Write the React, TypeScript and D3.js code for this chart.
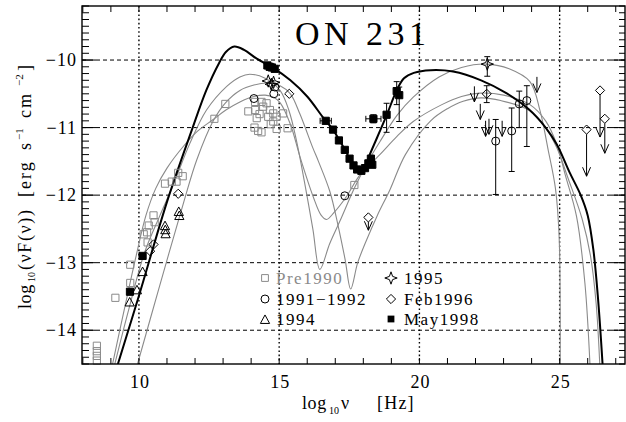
import * as d3 from 'd3';

// ---- axes ----
const xTicks = [10, 15, 20, 25];
const yTicks = [-10, -11, -12, -13, -14];

// ---- model curves: [log10 nu, log10 nuF(nu)] ----
const modelMay1998: [number, number][] = [
  [9.25, -14.5], [10.0, -13.49], [11.0, -12.1], [11.9, -11.02], [12.4, -10.45],
  [12.85, -10.05], [13.1, -9.88], [13.4, -9.8], [13.75, -9.85], [14.2, -9.98],
  [14.8, -10.12], [15.4, -10.3], [16.0, -10.54], [16.6, -10.87], [16.92, -11.03],
  [17.15, -11.19], [17.35, -11.33], [17.5, -11.45], [17.65, -11.56], [17.8, -11.63],
  [17.95, -11.63], [18.1, -11.53], [18.25, -11.38], [18.8, -10.85], [19.2, -10.44],
  [19.45, -10.27], [19.8, -10.19], [20.4, -10.15], [21.2, -10.17], [22.2, -10.3],
  [23.1, -10.49], [23.9, -10.73], [24.5, -11.0], [24.9, -11.25], [25.35, -11.66],
  [25.75, -12.0], [26.0, -12.3], [26.2, -12.8], [26.37, -13.54], [26.53, -14.5],
];
const modelGrayA: [number, number][] = [
  [9.14, -14.5], [9.6, -13.75], [10.2, -12.85], [10.75, -12.3], [11.22, -11.85],
  [11.82, -11.23], [12.41, -10.74], [13.13, -10.39], [13.6, -10.25], [13.95, -10.21],
  [14.5, -10.27], [15.03, -10.45], [15.35, -10.75], [15.62, -11.2], [15.9, -11.8],
  [16.2, -12.5], [16.45, -13.1], [16.8, -12.72], [17.17, -12.38], [17.7, -11.88],
  [18.2, -11.48], [18.59, -11.21], [19.2, -10.82], [19.78, -10.55], [20.7, -10.25],
  [21.5, -10.11], [22.4, -10.06], [23.2, -10.13], [23.94, -10.32], [24.3, -10.75],
  [24.59, -11.33], [24.85, -11.9], [24.98, -12.6], [25.02, -14.5],
];
const modelGrayB: [number, number][] = [
  [9.95, -14.5], [10.7, -13.4], [11.6, -12.1], [12.06, -11.48], [12.65, -10.9],
  [13.07, -10.64], [13.6, -10.45], [14.1, -10.37], [14.6, -10.34], [15.03, -10.38],
  [15.4, -10.5], [15.74, -10.8], [16.2, -11.3], [16.4, -11.5], [16.81, -11.95],
  [17.1, -12.45], [17.35, -12.95], [17.55, -13.39], [17.8, -13.0], [18.12, -12.66],
  [18.5, -12.3], [18.95, -11.92], [19.5, -11.4], [20.4, -10.9], [21.0, -10.72],
  [21.56, -10.61], [22.2, -10.56], [22.9, -10.6], [23.94, -10.75], [24.5, -11.0],
  [24.9, -11.3], [25.3, -11.75], [25.8, -12.35], [26.1, -12.9], [26.3, -13.6],
  [26.43, -14.5],
];
const modelGrayC: [number, number][] = [
  [9.06, -14.5], [9.5, -13.65], [9.9, -12.9], [10.25, -12.3], [10.6, -11.9],
  [11.0, -11.6], [11.58, -11.28], [12.1, -11.05], [12.65, -10.88], [13.1, -10.74],
  [13.6, -10.62], [14.1, -10.54], [14.5, -10.52], [14.8, -10.55], [15.03, -10.63],
  [15.4, -10.95], [15.74, -11.43], [16.21, -12.02], [16.5, -12.3], [16.69, -12.36],
  [16.95, -12.26], [17.4, -12.02], [17.88, -11.7], [18.59, -11.4], [19.2, -11.13],
  [19.78, -10.91], [20.8, -10.66], [21.5, -10.54], [22.16, -10.49], [23.0, -10.52],
  [23.94, -10.66], [24.5, -10.9], [24.9, -11.25], [25.2, -11.7], [25.6, -12.31],
  [25.9, -13.3], [26.08, -14.5],
];

// ---- observations ----
const pre1990: [number, number][] = [
  [8.5, -14.23], [8.5, -14.31], [8.5, -14.38], [8.5, -14.45],
  [9.16, -13.52], [9.69, -13.03], [9.69, -13.3],
  [10.17, -12.58], [10.29, -12.55], [10.35, -12.45], [10.31, -12.7], [10.52, -12.3], [10.56, -12.4],
  [10.93, -11.83], [11.17, -11.8], [11.34, -11.8], [11.4, -11.67], [11.56, -11.72],
  [12.69, -10.87], [13.08, -10.65],
  [13.9, -10.76], [14.14, -10.62], [14.37, -10.62], [14.55, -10.64], [14.14, -10.74],
  [14.43, -10.69], [14.67, -10.74], [14.79, -10.79], [14.61, -10.84], [14.91, -10.84],
  [15.14, -10.79], [14.2, -10.86], [14.79, -10.91], [14.12, -11.0], [14.25, -11.05],
  [14.37, -11.07], [14.91, -11.02], [15.3, -11.01], [14.3, -10.8], [14.7, -10.95],
  [17.68, -11.85],
];
const y1991: [number, number][] = [
  [14.1, -10.57], [14.81, -10.5], [14.85, -10.4], [17.34, -12.01],
  [22.72, -11.2], [23.29, -11.05], [23.56, -10.65], [23.83, -10.6],
];
const y1991Bars: [number, number, number][] = [
  [22.72, -11.99, -10.88], [23.29, -11.65, -10.71], [23.56, -11.0, -10.46], [23.83, -11.28, -10.38],
];
const y1991Limits: [number, number, number][] = [
  [21.96, -10.33, -10.62], [22.17, -10.59, -10.88], [22.36, -10.84, -11.13],
  [22.48, -10.81, -11.1], [22.95, -10.84, -11.13], [24.19, -10.19, -10.48],
];
const y1994: [number, number][] = [
  [11.42, -12.25], [11.44, -12.31], [10.93, -12.46], [10.94, -12.52], [10.95, -12.58],
  [10.13, -13.14], [9.93, -13.41], [9.67, -13.59],
];
const y1995: [number, number][] = [[14.61, -10.31], [14.72, -10.36], [14.8, -10.33], [22.42, -10.06]];
const y1995Bars: [number, number, number][] = [[22.42, -10.24, -9.95]];
const feb1996: [number, number][] = [[10.4, -12.83], [10.52, -12.73], [11.4, -11.98], [15.36, -10.5], [22.4, -10.5]];
const feb1996Bars: [number, number, number][] = [[22.4, -10.63, -10.38]];
const feb1996Limits: [number, number, number][] = [
  [18.18, -12.33, -12.52], [25.96, -11.03, -11.72], [26.44, -10.45, -11.14], [26.61, -10.87, -11.38],
];
const may1998: [number, number][] = [
  [9.68, -13.43], [10.13, -12.9], [14.58, -10.08], [14.66, -10.1], [14.74, -10.11], [14.84, -10.13],
  [16.66, -10.9], [16.92, -11.03], [17.13, -11.19], [17.34, -11.33], [17.51, -11.46], [17.65, -11.56],
  [17.78, -11.62], [17.93, -11.64], [18.06, -11.6], [18.18, -11.53], [18.27, -11.46], [18.32, -11.55],
  [18.36, -10.87], [18.83, -10.81], [19.19, -10.46], [19.28, -10.52],
];
const may1998Bars: [number, number, number][] = [
  [18.36, -10.93, -10.81], [18.83, -11.07, -10.64], [19.19, -10.66, -10.32], [19.28, -10.91, -10.4],
];
const may1998XBars: [number, number, number][] = [[-10.9, 16.46, 16.86], [-10.87, 18.09, 18.63]];

const legendLeft = ['Pre1990', '1991\u22121992', '1994'];
const legendRight = ['1995', 'Feb1996', 'May1998'];

const FONT = '"Liberation Serif", "Times New Roman", serif';
const GRAY = '#8a8a8a';

const x = d3.scaleLinear().domain([7.97, 27.33]).range([82, 625]);
const y = d3.scaleLinear().domain([-14.5, -9.2]).range([364, 6]);

const curve = d3.line<[number, number]>()
  .x(d => x(d[0]))
  .y(d => y(d[1]))
  .curve(d3.curveCatmullRom.alpha(0.5));

// symbol paths
const squarePath = (cx: number, cy: number, s = 3.6) =>
  `M${cx - s},${cy - s}H${cx + s}V${cy + s}H${cx - s}Z`;
const trianglePath = (cx: number, cy: number, s = 4.6) =>
  `M${cx},${cy - s * 1.1}L${cx + s},${cy + s * 0.75}L${cx - s},${cy + s * 0.75}Z`;
const diamondPath = (cx: number, cy: number, s = 4.6) =>
  `M${cx},${cy - s}L${cx + s},${cy}L${cx},${cy + s}L${cx - s},${cy}Z`;
const starPath = (cx: number, cy: number, r = 6.2, a = 1.6) =>
  `M${cx},${cy - r}L${cx + a},${cy - a}L${cx + r},${cy}L${cx + a},${cy + a}L${cx},${cy + r}` +
  `L${cx - a},${cy + a}L${cx - r},${cy}L${cx - a},${cy - a}Z`;

const ErrBars = ({ bars }: { bars: [number, number, number][] }) => (
  <g stroke="#000" strokeWidth={1}>
    {bars.map(([bx, lo, hi], i) => (
      <path key={i}
        d={`M${x(bx)},${y(lo)}V${y(hi)}M${x(bx) - 3},${y(lo)}h6M${x(bx) - 3},${y(hi)}h6`} />
    ))}
  </g>
);

const Limits = ({ data, gap }: { data: [number, number, number][]; gap: number }) => (
  <g stroke="#000" strokeWidth={1} fill="none">
    {data.map(([lx, ly, tip], i) => {
      const px = x(lx), t = y(tip);
      return <path key={i} d={`M${px},${y(ly) + gap}V${t}M${px - 4},${t - 9}L${px},${t}L${px + 4},${t - 9}`} />;
    })}
  </g>
);

export default function App() {
  const xMinor = d3.range(8, 28);
  const yMinor = d3.range(-145, -91).map(v => v / 10);
  const yMajor = d3.range(-14, -9);
  const legendRows = [278, 299, 319];

  return (
    <div style={{ position: 'absolute', left: 0, top: 0, background: '#fff' }}>
      <svg width={626} height={422} style={{ display: 'block', fontFamily: FONT }}>
        <defs>
          <clipPath id="plot">
            <rect x={82} y={6} width={543} height={358} />
          </clipPath>
        </defs>
        <rect width={626} height={422} fill="#fff" />

        {/* grid */}
        <g stroke="#000" strokeWidth={1}>
          {yTicks.map(t => (
            <line key={t} x1={82} x2={625} y1={y(t)} y2={y(t)} strokeDasharray="4,3" />
          ))}
          {xTicks.map(t => (
            <line key={t} x1={x(t)} x2={x(t)} y1={6} y2={364} strokeDasharray="1.6,2.6" strokeWidth={1.4} />
          ))}
        </g>

        {/* models */}
        <g clipPath="url(#plot)" fill="none">
          {[modelGrayA, modelGrayB, modelGrayC].map((m, i) => (
            <path key={i} d={curve(m) ?? ''} stroke={GRAY} strokeWidth={1.1} />
          ))}
          <path d={curve(modelMay1998) ?? ''} stroke="#000" strokeWidth={2} />
        </g>

        {/* observations */}
        <g fill="none" strokeWidth={1}>
          {pre1990.map(([a, b], i) => (
            <path key={i} d={squarePath(x(a), y(b))} stroke={GRAY} />
          ))}
          <ErrBars bars={y1991Bars} />
          <Limits data={y1991Limits} gap={4} />
          {y1991.map(([a, b], i) => (
            <circle key={i} cx={x(a)} cy={y(b)} r={4} stroke="#000" />
          ))}
          {y1994.map(([a, b], i) => (
            <path key={i} d={trianglePath(x(a), y(b))} stroke="#000" />
          ))}
          <ErrBars bars={y1995Bars} />
          {y1995.map(([a, b], i) => (
            <path key={i} d={starPath(x(a), y(b))} stroke="#000" />
          ))}
          <ErrBars bars={feb1996Bars} />
          <Limits data={feb1996Limits} gap={4.6} />
          {feb1996.concat(feb1996Limits.map(d => [d[0], d[1]] as [number, number])).map(([a, b], i) => (
            <path key={i} d={diamondPath(x(a), y(b))} stroke="#000" />
          ))}
          <ErrBars bars={may1998Bars} />
          <g stroke="#000">
            {may1998XBars.map(([by, lo, hi], i) => (
              <path key={i} d={`M${x(lo)},${y(by)}H${x(hi)}M${x(lo)},${y(by) - 3}v6M${x(hi)},${y(by) - 3}v6`} />
            ))}
          </g>
          {may1998.map(([a, b], i) => (
            <path key={i} d={squarePath(x(a), y(b), 3.6)} fill="#000" stroke="#000" />
          ))}
        </g>

        {/* frame and ticks */}
        <g stroke="#000" strokeWidth={1}>
          {xMinor.map(t => (
            <g key={t}>
              <line x1={x(t)} x2={x(t)} y1={364} y2={358} />
              <line x1={x(t)} x2={x(t)} y1={6} y2={12} />
            </g>
          ))}
          {yMinor.map(t => (
            <g key={t}>
              <line x1={82} x2={89} y1={y(t)} y2={y(t)} />
              <line x1={625} x2={619} y1={y(t)} y2={y(t)} />
            </g>
          ))}
          {yMajor.map(t => (
            <g key={t}>
              <line x1={82} x2={96} y1={y(t)} y2={y(t)} />
              <line x1={625} x2={611} y1={y(t)} y2={y(t)} />
            </g>
          ))}
          <rect x={82} y={6} width={543} height={358} fill="none" strokeWidth={1.4} />
        </g>

        {/* tick labels */}
        <g fontSize={18} fill="#000" letterSpacing={1}>
          {yTicks.map(t => (
            <text key={t} x={77} y={y(t) + 6} textAnchor="end">{'\u2212' + Math.abs(t)}</text>
          ))}
          {xTicks.map(t => (
            <text key={t} x={x(t) + 1} y={388} textAnchor="middle">{t}</text>
          ))}
        </g>

        {/* title */}
        <text x={295} y={45} fontSize={34} letterSpacing={4.5}>ON 231</text>

        {/* x label */}
        <g fontSize={18} letterSpacing={0.6}>
          <text x={302} y={409}>log</text>
          <text x={329} y={414} fontSize={10} letterSpacing={0}>10</text>
          <text x={341} y={409}>{'\u03bd'}</text>
          <text x={377} y={409} letterSpacing={1.2}>[Hz]</text>
        </g>

        {/* y label */}
        <g transform="translate(31,0) rotate(-90)" fontSize={18} letterSpacing={0.6}>
          <text x={-309} y={0}>log</text>
          <text x={-282} y={4} fontSize={10} letterSpacing={0}>10</text>
          <text x={-270} y={0} letterSpacing={1.6}>({'\u03bd'}F({'\u03bd'}))</text>
          <text x={-197} y={0} letterSpacing={2}>[erg</text>
          <text x={-150} y={0}>s</text>
          <text x={-140} y={-8} fontSize={11} letterSpacing={0}>{'\u22121'}</text>
          <text x={-118} y={0} letterSpacing={2}>cm</text>
          <text x={-86} y={-8} fontSize={11} letterSpacing={0}>{'\u22122'}</text>
          <text x={-71} y={0}>]</text>
        </g>

        {/* legend */}
        <g fontSize={17} letterSpacing={1.5}>
          <path d={squarePath(265, legendRows[0], 3.4)} fill="none" stroke={GRAY} />
          <circle cx={265} cy={legendRows[1]} r={4} fill="none" stroke="#000" />
          <path d={trianglePath(265, legendRows[2] + 1)} fill="none" stroke="#000" />
          {legendLeft.map((s, i) => (
            <text key={s} x={276} y={legendRows[i] + 6} fill={i === 0 ? GRAY : '#000'}>{s}</text>
          ))}
          <path d={starPath(391, legendRows[0])} fill="none" stroke="#000" />
          <path d={diamondPath(391, legendRows[1])} fill="none" stroke="#000" />
          <path d={squarePath(391, legendRows[2], 3.4)} fill="#000" />
          {legendRight.map((s, i) => (
            <text key={s} x={404} y={legendRows[i] + 6}>{s}</text>
          ))}
        </g>
      </svg>
    </div>
  );
}
